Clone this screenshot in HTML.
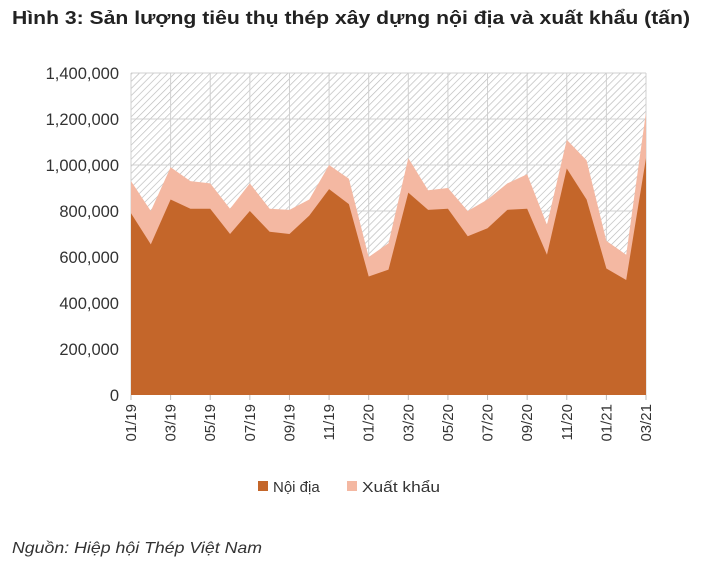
<!DOCTYPE html>
<html><head><meta charset="utf-8"><style>
body{margin:0;background:#fff;font-family:"Liberation Sans",sans-serif;}
</style></head><body>
<svg width="720" height="575" xmlns="http://www.w3.org/2000/svg">
<defs>
<pattern id="hatch" width="5" height="5" patternUnits="userSpaceOnUse" patternTransform="rotate(45)">
<rect width="5" height="5" fill="#fff"/><line x1="0" y1="0" x2="0" y2="5" stroke="#b8b8b8" stroke-width="1.3"/>
</pattern>
</defs>
<text x="12" y="24" font-size="18" font-weight="bold" fill="#222" textLength="678" lengthAdjust="spacingAndGlyphs">Hình 3: Sản lượng tiêu thụ thép xây dựng nội địa và xuất khẩu (tấn)</text>
<rect x="131" y="73" width="515" height="322" fill="url(#hatch)"/>
<g id="grid"></g>
<g id="areas"></g>
<g id="yaxis"></g>
<g id="xaxis"></g>
<g>
<rect x="258" y="481" width="10" height="10" fill="#c4662a"/>
<text x="273" y="492" font-size="15" fill="#333">Nội địa</text>
<rect x="347" y="481" width="10" height="10" fill="#f4b8a2"/>
<text x="362" y="492" font-size="15" fill="#333" textLength="78" lengthAdjust="spacingAndGlyphs">Xuất khẩu</text>
</g>
<text x="12" y="553" font-size="16" font-style="italic" fill="#333" textLength="250" lengthAdjust="spacingAndGlyphs">Nguồn: Hiệp hội Thép Việt Nam</text>
</svg>
<script>
const categories=["01/19","02/19","03/19","04/19","05/19","06/19","07/19","08/19","09/19","10/19","11/19","12/19","01/20","02/20","03/20","04/20","05/20","06/20","07/20","08/20","09/20","10/20","11/20","12/20","01/21","02/21","03/21"];
const noiDia=[790000,655000,850000,810000,810000,700000,800000,710000,700000,780000,895000,830000,515000,545000,880000,805000,810000,690000,725000,805000,810000,610000,985000,850000,550000,500000,1030000];
const xuatKhau=[140000,145000,140000,120000,110000,110000,120000,100000,105000,70000,105000,110000,85000,115000,150000,85000,90000,110000,125000,115000,150000,130000,125000,170000,120000,110000,200000];
const yTicks=[0,200000,400000,600000,800000,1000000,1200000,1400000];
const NS="http://www.w3.org/2000/svg";
const L=131,R=646,T=73,B=395,YMAX=1400000;
function x(i){return L+(R-L)*i/(categories.length-1);}
function y(v){return B-(B-T)*v/YMAX;}
function mk(tag,attrs,parent){const e=document.createElementNS(NS,tag);for(const k in attrs)e.setAttribute(k,attrs[k]);document.getElementById(parent).appendChild(e);return e;}
yTicks.forEach(v=>{
 if(v>0){const g=mk('line',{x1:L,x2:R,y1:y(v),y2:y(v),stroke:'#d0d0d0','stroke-width':1},'grid');
 
 }
 const t=mk('text',{x:L-12,y:y(v)+6,'text-anchor':'end','font-size':16.5,fill:'#333'},'yaxis');
 t.textContent=v.toLocaleString('en-US');
 
 
});
categories.forEach((c,i)=>{
 if(i%2===0){
  const g=mk('line',{x1:x(i),x2:x(i),y1:T,y2:B,stroke:'#d0d0d0','stroke-width':1},'grid');
  
  
  const tk=mk('line',{x1:x(i),x2:x(i),y1:B,y2:B+5,stroke:'#bbb'},'xaxis');
  
  
  const t=mk('text',{x:0,y:0,'text-anchor':'end','font-size':15,fill:'#333',transform:`translate(${x(i)+5},${B+9}) rotate(-90)`},'xaxis');
  t.textContent=c;
  
  
 }
});
let totPts=categories.map((c,i)=>`${x(i)},${y(noiDia[i]+xuatKhau[i])}`).join(' ');
let domPts=categories.map((c,i)=>`${x(i)},${y(noiDia[i])}`).join(' ');
const a1=mk('polygon',{points:`${L},${B} ${totPts} ${R},${B}`,fill:'#f4b8a2'},'areas');


const a2=mk('polygon',{points:`${L},${B} ${domPts} ${R},${B}`,fill:'#c4662a'},'areas');


</script>
</body></html>
